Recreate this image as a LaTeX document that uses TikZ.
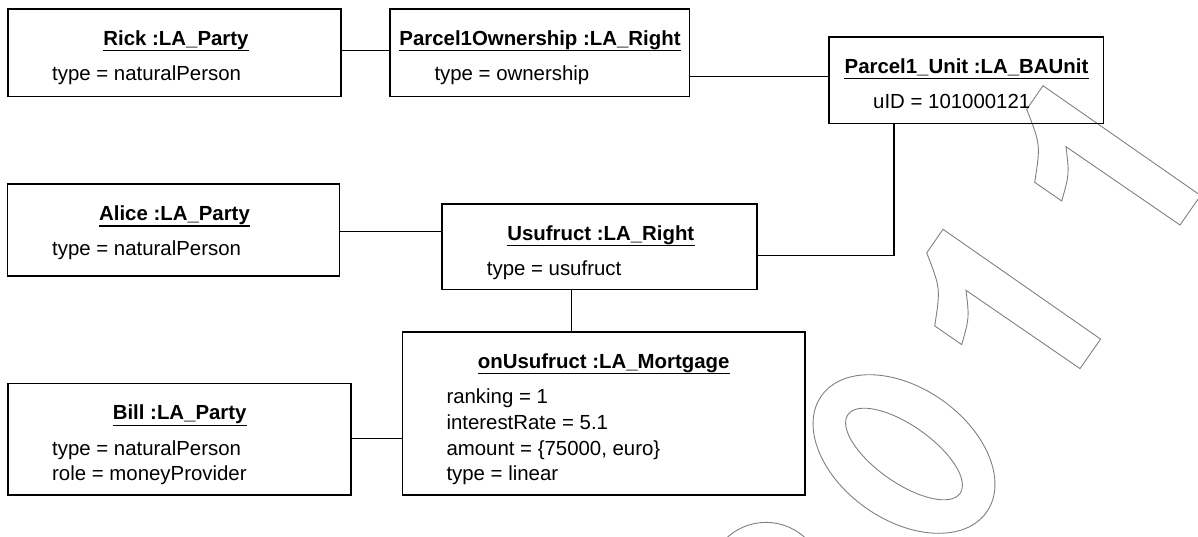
\documentclass[tikz,border=0pt]{standalone}
\usepackage{fontspec}
\setmainfont{Liberation Sans}
\begin{document}
\begin{tikzpicture}[x=1pt,y=-1pt,
  obj/.style={draw, line width=1.6pt, anchor=north west, inner sep=0pt, outer sep=0pt},
  hdr/.style={font=\fontsize{20.4}{24}\selectfont\bfseries, anchor=base, inner sep=0pt},
  attr/.style={font=\fontsize{20.4}{24}\selectfont, anchor=base west, inner sep=0pt},
  uline/.style={line width=1.3pt},
  link/.style={line width=1.3pt},
  outlinedigit/.style={draw=black!50, line width=0.9pt}]

\useasboundingbox (0,0) rectangle (1198,536);

% outlined year stamp in the background
\begin{scope}
  \clip (0,0) rectangle (1198,536);
  \foreach \dx/\dy in {0/0, -100/143.6} {
    \draw[outlinedigit, shift={(\dx,\dy)}]
      (1043,85.7) -- (1026.7,109.3)
      .. controls (1040.5,144.7) .. (1034.7,182.3)
      -- (1061.7,201)
      .. controls (1069.3,174.3) .. (1066,146.7)
      -- (1180,225) -- (1200.6,195.5) -- cycle;
  }
  \draw[outlinedigit, rotate around={54.9:(904,454)}] (904,454) ellipse [x radius=66, y radius=101];
  \draw[outlinedigit, rotate around={54.9:(904,454)}] (904,454) ellipse [x radius=28.6, y radius=68.5];
  \draw[outlinedigit] (766,580) circle [radius=57.6];
\end{scope}

% object boxes
\node[obj, minimum width=332.7pt, minimum height=87.6pt] (rick) at (8,8.7) {};
\node[obj, minimum width=299.3pt, minimum height=87.6pt] (own) at (390,8.7) {};
\node[obj, minimum width=274.3pt, minimum height=86.6pt] (unit) at (829,36.7) {};
\node[obj, minimum width=331.8pt, minimum height=92pt] (alice) at (7.5,184) {};
\node[obj, minimum width=315.3pt, minimum height=85.6pt] (usu) at (441.7,203.7) {};
\node[obj, minimum width=402.4pt, minimum height=163.3pt] (mort) at (402.3,331.7) {};
\node[obj, minimum width=342.7pt, minimum height=111.7pt] (bill) at (8,383.3) {};

% object names
\node[hdr] (rickH) at (176,45) {Rick :LA\_Party};
\node[hdr] (ownH) at (540,45) {Parcel1Ownership :LA\_Right};
\node[hdr] (unitH) at (966.5,73) {Parcel1\_Unit :LA\_BAUnit};
\node[hdr] (aliceH) at (174.5,220.3) {Alice :LA\_Party};
\node[hdr] (usuH) at (600.8,240) {Usufruct :LA\_Right};
\node[hdr] (mortH) at (603.7,368) {onUsufruct :LA\_Mortgage};
\node[hdr] (billH) at (179.7,419.6) {Bill :LA\_Party};
\foreach \h in {rickH,ownH,unitH,aliceH,usuH,mortH,billH}
  \draw[uline] ([yshift=-5.7pt]\h.base west) -- ([yshift=-5.7pt]\h.base east);

% attribute values
\node[attr] (rickA) at (52,80) {type = naturalPerson};
\node[attr] (ownA) at (434.3,80) {type = ownership};
\node[attr] (unitA) at (873,108) {uID = 101000121};
\node[attr] (aliceA) at (52,255.3) {type = naturalPerson};
\node[attr] (usuA) at (486.7,275) {type = usufruct};
\node[attr] (mortA1) at (446.3,403.3) {ranking = 1};
\node[attr] (mortA2) at (446.3,429) {interestRate = 5.1};
\node[attr] (mortA3) at (446.3,455) {amount = \{75000, euro\}};
\node[attr] (mortA4) at (446.3,480.7) {type = linear};
\node[attr] (billA1) at (52,455) {type = naturalPerson};
\node[attr] (billA2) at (52,480.8) {role = moneyProvider};

% links
\draw[link] ([yshift=2.2pt]rick.east) -- ([yshift=2.2pt]own.west);
\draw[link] ([yshift=-23.8pt]own.east) -- ([yshift=3.7pt]unit.west);
\draw[link] ([yshift=-1.3pt]alice.east) -- ([yshift=15.2pt]usu.west);
\draw[link] ([yshift=-9.2pt]usu.east) -| ([xshift=-72.2pt]unit.south);
\draw[link] ([xshift=-27.65pt]usu.south) -- ([xshift=-31.8pt]mort.north);
\draw[link] ([yshift=0.45pt]bill.east) -- ([yshift=-25.35pt]mort.west);
\end{tikzpicture}
\end{document}
